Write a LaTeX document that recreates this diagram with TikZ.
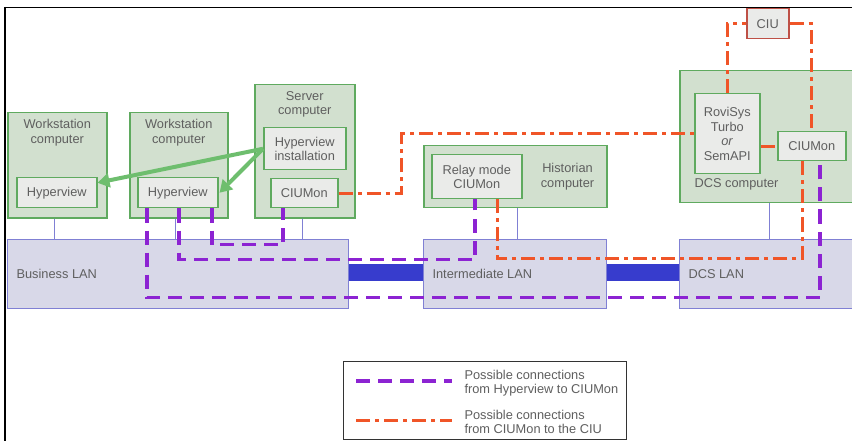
\documentclass[tikz,border=0pt]{standalone}
\usepackage{fontspec}
\setmainfont{Liberation Sans}
\usetikzlibrary{arrows.meta,calc}
\definecolor{txtgray}{RGB}{95,95,95}
\definecolor{pcfill}{RGB}{210,224,207}
\definecolor{pcgreen}{RGB}{95,170,95}
\definecolor{appfill}{RGB}{234,235,233}
\definecolor{lanfill}{RGB}{216,216,232}
\definecolor{lanedge}{RGB}{128,128,212}
\definecolor{busblue}{RGB}{55,60,205}
\definecolor{hvpurple}{RGB}{140,35,210}
\definecolor{ciured}{RGB}{240,85,40}
\definecolor{ciuedge}{RGB}{190,80,70}
\definecolor{pushgreen}{RGB}{110,190,110}

\begin{document}
\begin{tikzpicture}[x=1pt,y=-1pt,
  font=\fontsize{12.8}{14.5}\selectfont, text=txtgray,
  pc/.style={draw=pcgreen, fill=pcfill, line width=1.5pt, inner sep=0pt, anchor=north west},
  app/.style={draw=pcgreen, fill=appfill, line width=1.5pt, inner sep=0pt, anchor=north west, align=center},
  ciubox/.style={draw=ciuedge, fill=appfill, line width=1.5pt, inner sep=0pt, anchor=north west},
  pcname/.style={anchor=north, align=center, yshift=-4pt},
  lan/.style={draw=lanedge, fill=lanfill, line width=1pt, inner sep=0pt, anchor=north west},
  lanname/.style={anchor=west, xshift=6pt},
  lanlink/.style={draw=lanedge, line width=1pt},
  bus/.style={draw=busblue, line width=17pt},
  hvlink/.style={draw=hvpurple, line width=3.5pt, dash pattern=on 14pt off 8pt},
  ciulink/.style={draw=ciured, line width=3pt, dash pattern=on 14pt off 5pt on 4pt off 5pt},
  push/.style={draw=pushgreen, line width=4pt, -{Triangle[length=12pt,width=14pt]}},
  legtext/.style={anchor=west, align=left},
]
\useasboundingbox (0,0) rectangle (852,441);
\draw[line width=1pt] (852,8) -- (4,8);
\draw[line width=2pt] (5,7) -- (5,441);

\node[lan, minimum width=341pt, minimum height=69pt, label={[lanname]west:Business LAN}] (blan) at (7,239) {};
\node[lan, minimum width=183pt, minimum height=69pt, label={[lanname]west:Intermediate LAN}] (ilan) at (423,239) {};
\node[lan, minimum width=190pt, minimum height=69pt, label={[lanname]west:DCS LAN}] (dlan) at (679,239) {};
\draw[bus] ([yshift=2pt]blan.east) -- ([yshift=2pt]ilan.west);
\draw[bus] ([yshift=2pt]ilan.east) -- ([yshift=2pt]dlan.west);

\node[pc, minimum width=99pt, minimum height=105pt, label={[pcname]north:Workstation\\computer}] (ws1) at (7,112) {};
\node[pc, minimum width=98pt, minimum height=105pt, label={[pcname]north:Workstation\\computer}] (ws2) at (129,112) {};
\node[pc, minimum width=100pt, minimum height=133pt, label={[pcname]north:Server\\computer}] (srv) at (254,84) {};
\node[pc, minimum width=183pt, minimum height=62pt] (hist) at (423,145) {};
\node[align=center] (histname) at ($(hist.east)+(-40,0)$) {Historian\\computer};
\node[pc, minimum width=190pt, minimum height=132pt] (dcs) at (679,70) {};
\node[anchor=west] (dcsname) at ([shift={(12,-19)}]dcs.south west) {DCS computer};

\node[app, minimum width=80pt, minimum height=30pt] (hv1) at (16,177) {Hyperview};
\node[app, minimum width=80pt, minimum height=30pt] (hv2) at (137,177) {Hyperview};
\node[app, minimum width=82pt, minimum height=42pt] (hvinst) at (263,127) {Hyperview\\installation};
\node[app, minimum width=67pt, minimum height=29pt] (ciumon1) at (270,178) {CIUMon};
\node[app, minimum width=90pt, minimum height=44pt] (relay) at (431,154) {Relay mode\\CIUMon};
\node[app, minimum width=65pt, minimum height=80pt] (rovi) at (694,93) {RoviSys\\Turbo\\\textit{or}\\SemAPI};
\node[app, minimum width=68pt, minimum height=29pt] (ciumon2) at (777,131) {CIUMon};
\node[ciubox, minimum width=42pt, minimum height=30pt] (ciu) at (746,8) {CIU};

\draw[lanlink] ([xshift=-3pt]ws1.south) -- ([xshift=-3pt]ws1.south |- blan.north);
\draw[lanlink] ([xshift=-3pt]ws2.south) -- ([xshift=-3pt]ws2.south |- blan.north);
\draw[lanlink] ([xshift=-2pt]srv.south) -- ([xshift=-2pt]srv.south |- blan.north);
\draw[lanlink] ([xshift=2pt]hist.south) -- ([xshift=2pt]hist.south |- ilan.north);
\draw[lanlink] ([xshift=90pt]dcs.south west) -- ([xshift=90pt]dlan.north west);

\draw[hvlink] ([xshift=10pt]hv2.south west) -- ++(0,89) -| ([xshift=43pt]ciumon2.south west);
\draw[hvlink] ([xshift=42pt]hv2.south west) -- ++(0,51) -| ([xshift=44pt]relay.south west);
\draw[hvlink] ([xshift=75pt]hv2.south west) -- ++(0,36) -| ([xshift=13pt]ciumon1.south west);

\draw[ciulink] (ciumon1.east) -- ++(63,0) |- (rovi.west);
\draw[ciulink] (rovi.north) |- (ciu.west);
\draw[ciulink] (ciu.east) -| ([xshift=34pt]ciumon2.north west);
\draw[ciulink] (rovi.east |- ciumon2.west) -- (ciumon2.west);
\draw[ciulink] ([xshift=25pt]ciumon2.south west) -- ++(0,97) -| ([xshift=66pt]relay.south west);

\draw[push] (hvinst.west) -- ([yshift=10pt]hv1.east);
\draw[push] (hvinst.west) -- ([xshift=1pt]hv2.east);

\node[draw=black!80, line width=1pt, fill=white, inner sep=0pt, anchor=north west, minimum width=283pt, minimum height=78pt] (legend) at (343,361) {};
\coordinate (hvkey) at ([shift={(13,20)}]legend.north west);
\coordinate (ciukey) at ([shift={(13,59)}]legend.north west);
\draw[hvlink] (hvkey) -- ++(96,0);
\draw[ciulink] (ciukey) -- ++(96,0);
\node[legtext] (hvtext) at ([shift={(118,22)}]legend.north west) {Possible connections\\from Hyperview to CIUMon};
\node[legtext] (ciutext) at ([shift={(118,61)}]legend.north west) {Possible connections\\from CIUMon to the CIU};
\end{tikzpicture}
\end{document}
